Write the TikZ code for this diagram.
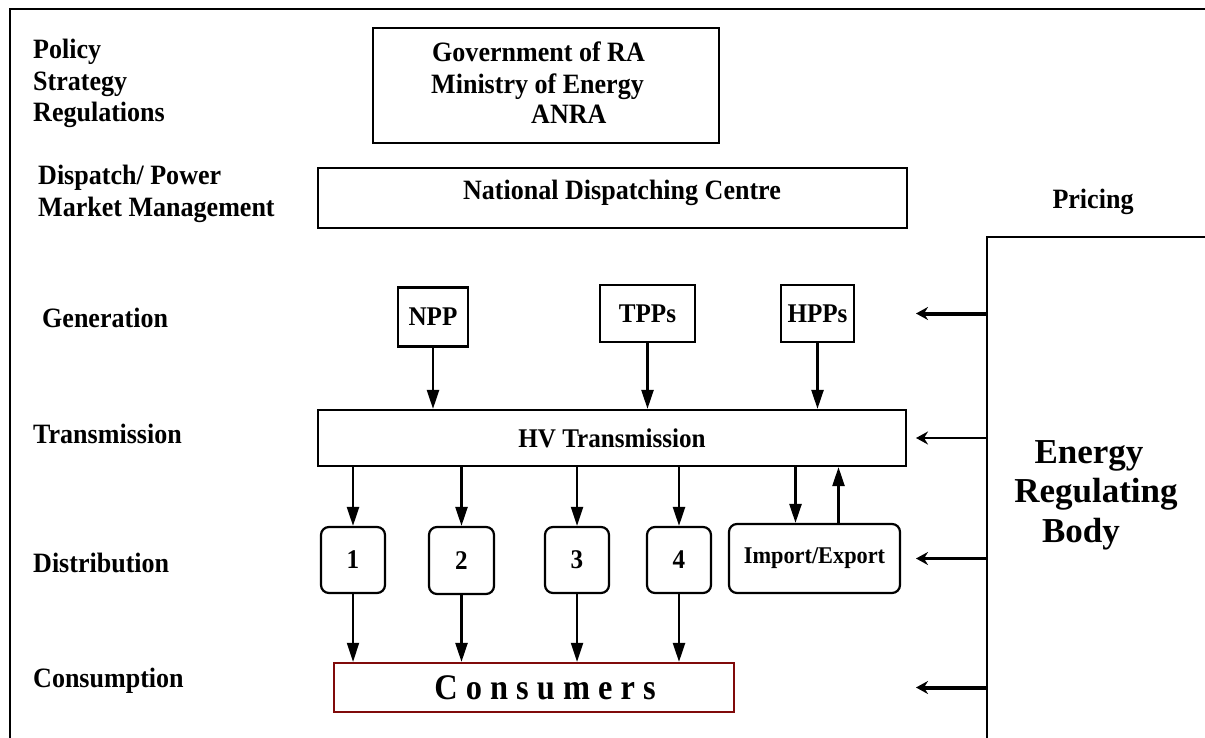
\documentclass[tikz,border=0pt]{standalone}
\usepackage{fontspec}
\setmainfont{Liberation Serif}
\newfontfamily\cond{Liberation Serif}[FakeStretch=0.93]
\newfontfamily\condb{Liberation Serif}[FakeStretch=0.9]
\usetikzlibrary{arrows.meta,calc}
\definecolor{consred}{RGB}{128,10,10}
\begin{document}
\begin{tikzpicture}[x=1pt,y=-1pt,
  box/.style={draw,line width=2.2pt,inner sep=0pt,font=\cond\fontsize{27}{30}\selectfont\bfseries},
  rbox/.style={box,rounded corners=8pt},
  lbl/.style={anchor=base west,inner sep=0pt,font=\cond\fontsize{28}{30}\selectfont\bfseries},
  big/.style={anchor=base,inner sep=0pt,font=\fontsize{35}{40}\selectfont\bfseries},
  arr/.style={line width=2.5pt,-{Triangle[length=19pt,width=12pt]}},
  rarr/.style={line width=2.2pt,-{Stealth[length=12pt,width=13pt,inset=4pt]}},
  thickrarr/.style={rarr,line width=4pt}]
\useasboundingbox (0,0) rectangle (1205,738);
% outer frame
\draw[line width=2.6pt] (1205,9) -- (10,9) -- (10,738);

% left labels
\node[lbl] (pol) at (33,59) {Policy};
\node[lbl] (str) at (33,91) {Strategy};
\node[lbl] (reg) at (33,122) {Regulations};
\node[lbl] (dis1) at (38,185) {Dispatch/ Power};
\node[lbl] (dis2) at (38,217) {Market Management};
\node[lbl] (gen) at (42,327) {Generation};
\node[lbl] (tra) at (33,443) {Transmission};
\node[lbl] (dst) at (33,572) {Distribution};
\node[lbl] (con) at (33,687) {Consumption};
\node[lbl,anchor=base] (pri) at (1093,209) {Pricing};

% government box
\node[box,minimum width=346pt,minimum height=115pt] (gov) at (546,85.5) {};
\node[lbl] (gov1) at (432,62) {Government of RA};
\node[lbl] (gov2) at (431,94) {Ministry of Energy};
\node[lbl] (gov3) at (531,124) {ANRA};

% dispatching centre
\node[box,minimum width=589pt,minimum height=60pt] (ndc) at (612.5,198) {};
\node[lbl,anchor=base] (ndct) at (622,200) {National Dispatching Centre};

% generation
\node[box,minimum width=70pt,minimum height=59pt] (npp) at (433,317) {NPP};
\node[box,minimum width=95pt,minimum height=57pt] (tpp) at (647.5,313.5) {TPPs};
\node[box,minimum width=73pt,minimum height=57pt] (hpp) at (817.5,313.5) {HPPs};

% transmission
\node[box,minimum width=588pt,minimum height=56pt] (hv) at (612,438) {HV Transmission};

% distribution
\node[rbox,minimum width=64pt,minimum height=66pt] (b1) at (353,560) {1};
\node[rbox,minimum width=65pt,minimum height=67pt] (b2) at (461.5,560.5) {2};
\node[rbox,minimum width=64pt,minimum height=66pt] (b3) at (577,560) {3};
\node[rbox,minimum width=64pt,minimum height=66pt] (b4) at (679,560) {4};
\node[rbox,minimum width=171pt,minimum height=69pt,font=\cond\fontsize{24}{26}\selectfont\bfseries] (ie) at (814.5,558.5) {Import/Export};

% consumers
\node[draw=consred,line width=2.2pt,inner sep=0pt,minimum width=400pt,minimum height=49pt,font=\condb\fontsize{36}{38}\selectfont\bfseries] (cons) at (534,687.5) {\hspace*{22pt}C o n s u m e r s};

% energy regulating body
\node[anchor=north west,minimum width=240pt,minimum height=520pt,inner sep=0pt] (erb) at (987,237) {};
\draw[line width=2.6pt] (erb.south west) -- (erb.north west) -- (erb.north east);
\node[big] (erb1) at (1089,463) {Energy};
\node[big] (erb2) at (1096,502) {Regulating};
\node[big] (erb3) at (1081,542) {Body};

% generation -> HV
\draw[arr] (npp.south) -- (npp.south |- hv.north);
\draw[arr] (tpp.south) -- (tpp.south |- hv.north);
\draw[arr] (hpp.south) -- (hpp.south |- hv.north);

% HV -> distribution
\draw[arr] (b1.north |- hv.south) -- (b1.north);
\draw[arr] (b2.north |- hv.south) -- (b2.north);
\draw[arr,line width=2pt] (b3.north |- hv.south) -- (b3.north);
\draw[arr] (b4.north |- hv.south) -- (b4.north);
\coordinate (ieL) at ([xshift=-19pt]ie.north);
\coordinate (ieR) at ([xshift=24pt]ie.north);
\draw[arr] (ieL |- hv.south) -- (ieL);
\draw[arr] (ieR) -- (ieR |- hv.south);

% distribution -> consumers
\draw[arr,line width=1.9pt] (b1.south) -- (b1.south |- cons.north);
\draw[arr] (b2.south) -- (b2.south |- cons.north);
\draw[arr,line width=2pt] (b3.south) -- (b3.south |- cons.north);
\draw[arr] (b4.south) -- (b4.south |- cons.north);

% regulator arrows
\coordinate (tipx) at (916,0);
\draw[thickrarr] (erb.west |- hpp) -- (tipx |- hpp);
\draw[rarr] (erb.west |- hv) -- (tipx |- hv);
\draw[rarr] (erb.west |- ie) -- (tipx |- ie);
\draw[thickrarr] (erb.west |- cons) -- (tipx |- cons);
\end{tikzpicture}
\end{document}
